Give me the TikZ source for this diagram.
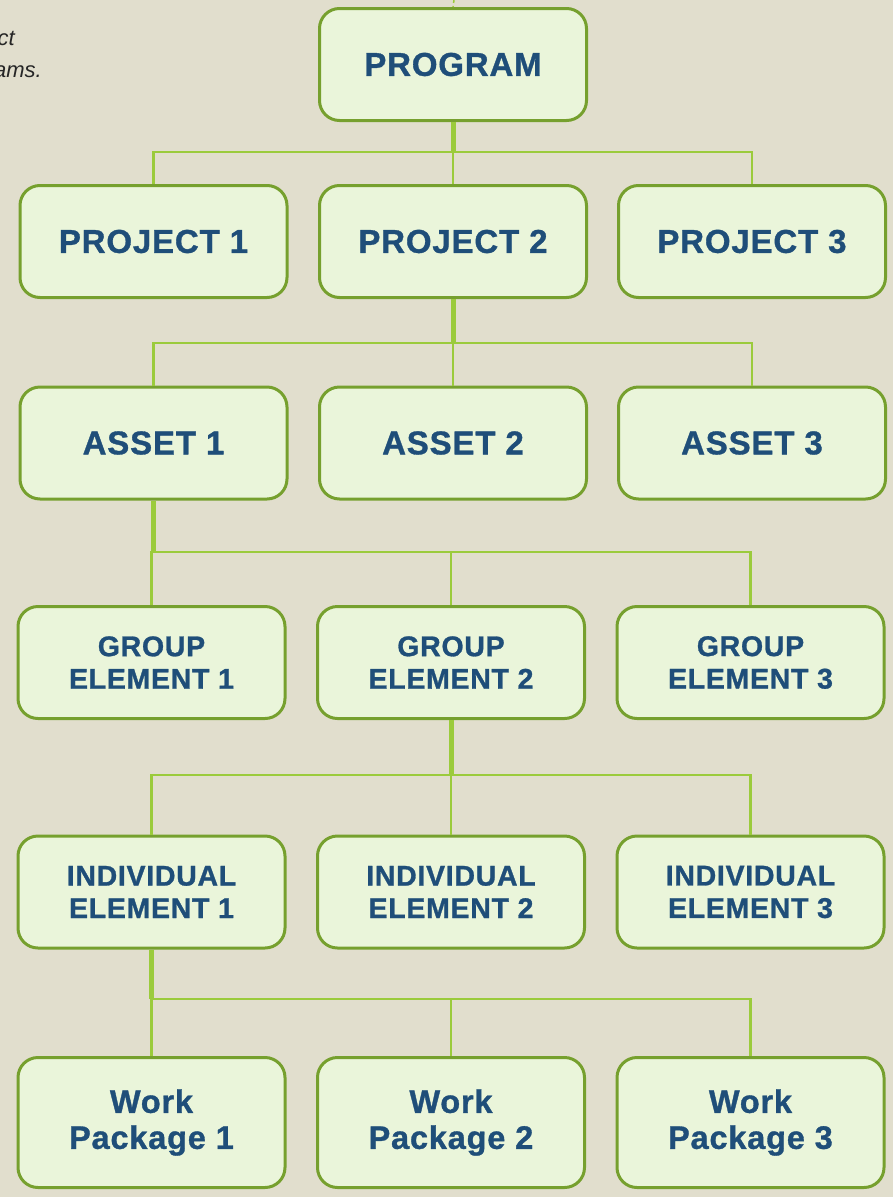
\documentclass[tikz,border=0pt]{standalone}
\usepackage{fontspec}
\setmainfont{Liberation Sans}
\newfontfamily\boxfont{Liberation Sans Bold}[FakeBold=1, LetterSpace=2.5]
\usepackage{tikz}

\definecolor{bgsand}{HTML}{E1DECD}
\definecolor{boxfill}{HTML}{EAF5DA}
\definecolor{boxline}{HTML}{76A02E}
\definecolor{linkgreen}{HTML}{9BCB3C}
\definecolor{textblue}{HTML}{1F4E79}

\begin{document}
\begin{tikzpicture}[x=1pt, y=-1pt,
    box/.style={draw=boxline, line width=3pt, fill=boxfill, rounded corners=20pt,
        minimum width=267pt, minimum height=112pt, align=center, text=textblue,
        inner sep=0pt, font=\boxfont\fontsize{33}{40}\selectfont},
    twoline/.style={font=\boxfont\fontsize{28.5}{32.5}\selectfont},
    workbox/.style={minimum height=130pt, font=\boxfont\fontsize{32.5}{36}\selectfont},
    link/.style={draw=linkgreen, line width=2.5pt},
    stem/.style={draw=linkgreen, line width=5pt}]

        \fill[bgsand] (0,0) rectangle (893,1197);
        \useasboundingbox (0,0) rectangle (893,1197);

        % cut-off note at the left edge
        \node[anchor=base east, inner sep=0pt, text=black!85, font=\itshape\fontsize{22}{26}\selectfont] (noteA) at (15,45) {ct};
        \node[anchor=base east, inner sep=0pt, text=black!85, font=\itshape\fontsize{22}{26}\selectfont] (noteB) at (42,77) {ams.};

        \node[box] (prog) at (453,64.5) {PROGRAM};

        \node[box] (p1) at (153.5,241.5) {PROJECT 1};
        \node[box] (p2) at (453,241.5) {PROJECT 2};
        \node[box] (p3) at (752,241.5) {PROJECT 3};

        \node[box] (a1) at (153.5,443) {ASSET 1};
        \node[box] (a2) at (453,443) {ASSET 2};
        \node[box] (a3) at (752,443) {ASSET 3};

        \node[box, twoline] (g1) at (151.5,662.5) {GROUP\\ELEMENT 1};
        \node[box, twoline] (g2) at (451,662.5) {GROUP\\ELEMENT 2};
        \node[box, twoline] (g3) at (750.5,662.5) {GROUP\\ELEMENT 3};

        \node[box, twoline] (i1) at (151.5,892) {INDIVIDUAL\\ELEMENT 1};
        \node[box, twoline] (i2) at (451,892) {INDIVIDUAL\\ELEMENT 2};
        \node[box, twoline] (i3) at (750.5,892) {INDIVIDUAL\\ELEMENT 3};

        \node[box, workbox] (w1) at (151.5,1122.5) {Work\\Package 1};
        \node[box, workbox] (w2) at (451,1122.5) {Work\\Package 2};
        \node[box, workbox] (w3) at (750.5,1122.5) {Work\\Package 3};

        \coordinate (top) at (454,0);
        \draw[draw=linkgreen, line width=1.5pt, dashed] (top) -- (prog.north);

        \coordinate (bus1) at (454,152);
        \coordinate (bus2) at (453,343);
        \coordinate (bus3) at (155,552);
        \coordinate (bus4) at (452,775);
        \coordinate (bus5) at (152,999);

        % parent stem, then bus and drops to the three children
        \foreach \up/\bus/\ka/\kb/\kc in {prog/bus1/p1/p2/p3, p2/bus2/a1/a2/a3,
                a1/bus3/g1/g2/g3, g2/bus4/i1/i2/i3, i1/bus5/w1/w2/w3} {
            \draw[link] (\ka.north) -- (\ka.north |- \bus) -- (\kc.north |- \bus) -- (\kc.north);
            \draw[link] (\kb.north |- \bus) -- (\kb.north);
            \draw[stem] (\up.south) -- (\up.south |- \bus);
        }
\end{tikzpicture}
\end{document}
